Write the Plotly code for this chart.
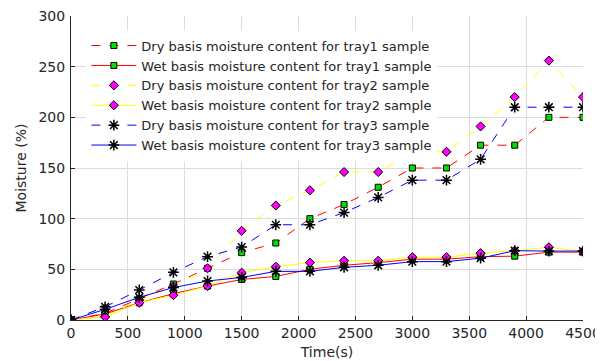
import plotly.graph_objects as go

time_s = [0, 300, 600, 900, 1200, 1500, 1800, 2100, 2400, 2700, 3000, 3300, 3600, 3900, 4200, 4500]

dry_tray1 = [0, 6.6, 21, 35.5, 51, 66.5, 76, 100, 114, 131, 150, 150, 172.5, 172.5, 200, 200]
wet_tray1 = [0, 6, 17, 26, 33.5, 40, 43, 50, 54, 56.6, 60, 60, 62.5, 63, 67, 67]
dry_tray2 = [0, 3.3, 20, 33, 51, 88, 113, 128, 146, 146, 166, 166, 191, 220, 256, 220]
wet_tray2 = [0, 3, 17, 24.5, 33.5, 46.7, 52.6, 56.6, 58.5, 58.5, 62, 62, 66, 68.4, 71.8, 67.8]
dry_tray3 = [0, 13, 29.6, 47, 62.5, 72, 94, 94, 106, 121, 138, 138, 158.6, 210, 210, 210]
wet_tray3 = [0, 10.5, 22.4, 32, 38.5, 42, 48, 48, 52, 54, 57.6, 57.6, 61, 68.4, 68, 68]

names = [
    "Dry basis moisture content for tray1 sample",
    "Wet basis moisture content for tray1 sample",
    "Dry basis moisture content for tray2 sample",
    "Wet basis moisture content for tray2 sample",
    "Dry basis moisture content for tray3 sample",
    "Wet basis moisture content for tray3 sample",
]

sq = dict(symbol="square", size=6, color="#00e000", line=dict(color="black", width=1))
dm = dict(symbol="diamond", size=7, color="#ff00ff", line=dict(color="black", width=1))
st = dict(symbol="asterisk-open", size=9, color="black", line=dict(color="black", width=1.5))

series = [
    (dry_tray1, names[0], "red", "dash", sq),
    (wet_tray1, names[1], "red", "solid", sq),
    (dry_tray2, names[2], "yellow", "dash", dm),
    (wet_tray2, names[3], "yellow", "solid", dm),
    (dry_tray3, names[4], "blue", "dash", st),
    (wet_tray3, names[5], "blue", "solid", st),
]

fig = go.Figure()
for ys, nm, col, dash, mk in series:
    fig.add_trace(go.Scatter(
        x=time_s, y=ys, name=nm, mode="lines+markers",
        line=dict(color=col, width=1, dash=dash),
        marker=mk,
    ))

font_main = "DejaVu Sans, Arial, sans-serif"
fig.update_layout(
    width=595, height=353,
    margin=dict(l=63, r=20, t=8, b=41),
    paper_bgcolor="white", plot_bgcolor="white",
    font=dict(family=font_main, size=14, color="#262626"),
    showlegend=True,
    legend=dict(
        x=0.03, y=0.952, xanchor="left", yanchor="top",
        bgcolor="white", borderwidth=0,
        font=dict(size=13, color="#262626"),
        tracegroupgap=0, itemwidth=45,
    ),
)
fig.update_xaxes(
    range=[0, 4500], tickvals=list(range(0, 4501, 500)),
    showgrid=True, gridcolor="#dcdcdc", gridwidth=1,
    showline=True, linecolor="#262626", linewidth=1,
    ticks="inside", ticklen=4, tickcolor="#262626",
    zeroline=False, automargin=False, ticklabeloverflow="allow",
    title=dict(text="Time(s)", font=dict(size=14), standoff=7),
    tickfont=dict(size=14),
)
fig.update_yaxes(
    range=[0, 300], tickvals=list(range(0, 301, 50)),
    showgrid=True, gridcolor="#dcdcdc", gridwidth=1,
    showline=True, linecolor="#262626", linewidth=1,
    ticks="inside", ticklen=4, tickcolor="#262626",
    zeroline=False, automargin=False, ticklabeloverflow="allow",
    title=dict(text="Moisture (%)", font=dict(size=14), standoff=8),
    tickfont=dict(size=14), ticklabelstandoff=2,
)

fig.write_html("out.html")
